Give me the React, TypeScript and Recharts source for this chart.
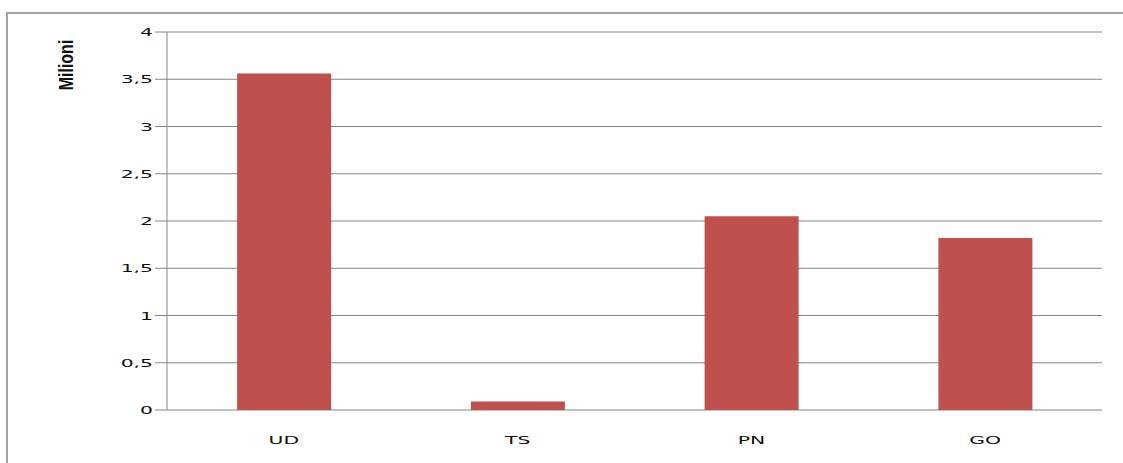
import React from 'react';
import { BarChart, Bar, XAxis, YAxis, CartesianGrid } from 'recharts';

const provinces = ['UD', 'TS', 'PN', 'GO'];
const milioni = [3.56, 0.09, 2.05, 1.82];
const yTicks = [0, 0.5, 1, 1.5, 2, 2.5, 3, 3.5, 4];
const boundaryTicks = [0, 1, 2, 3, 4];

const data = provinces.map((p, i) => ({ name: p, value: milioni[i] }));

const AXIS = '#868686';
const BAR = '#C0504D';

function YTick(props: any) {
  const { x, y, payload } = props;
  const label = String(payload.value).replace('.', ',');
  return (
    <g transform={`translate(${x},${y}) scale(1.85,1)`}>
      <text x={0} y={0} dy={4} textAnchor="end" fontSize={11} fill="#111" fontFamily="DejaVu Sans">
        {label}
      </text>
    </g>
  );
}

function XTick(props: any) {
  const { x, y, payload } = props;
  return (
    <g transform={`translate(${x},${y}) scale(1.85,1)`}>
      <text x={0} y={0} dy={26} textAnchor="middle" fontSize={11} fill="#111" fontFamily="DejaVu Sans">
        {payload.value}
      </text>
    </g>
  );
}

function UnitLabel() {
  return (
    <g transform="translate(73,65) rotate(-90) scale(1,1.25)">
      <text x={0} y={0} textAnchor="middle" fontSize={16} fontWeight="bold" fill="#111" fontFamily="Liberation Sans Narrow, Liberation Sans">
        Milioni
      </text>
    </g>
  );
}

export default function App() {
  return (
    <div style={{ position: 'absolute', left: 0, top: 0, width: 1123, height: 463, background: '#fff', overflow: 'hidden' }}>
      <div
        style={{
          position: 'absolute',
          left: 6,
          top: 12,
          width: 1140,
          height: 470,
          border: '2px solid #a3a3a3',
          boxSizing: 'border-box',
        }}
      />
      <div style={{ position: 'absolute', left: 0, top: 0 }}>
        <BarChart
          width={1123}
          height={463}
          data={data}
          margin={{ top: 32, right: 21, left: 0, bottom: 13 }}
          barCategoryGap="30%"
        >
          <CartesianGrid vertical={false} stroke={AXIS} strokeDasharray="" />
          <XAxis
            xAxisId="edges"
            type="number"
            domain={[0, 4]}
            ticks={boundaryTicks}
            tick={false}
            tickSize={5}
            height={0}
            stroke={AXIS}
            allowDataOverflow
          />
          <XAxis
            xAxisId="cat"
            dataKey="name"
            axisLine={false}
            tickLine={false}
            height={40}
            tick={<XTick />}
          />
          <YAxis
            width={167}
            domain={[0, 4]}
            ticks={yTicks}
            tickSize={12}
            stroke={AXIS}
            tick={<YTick />}
            label={<UnitLabel />}
          />
          <Bar xAxisId="cat" dataKey="value" fill={BAR} isAnimationActive={false} />
        </BarChart>
      </div>
    </div>
  );
}
